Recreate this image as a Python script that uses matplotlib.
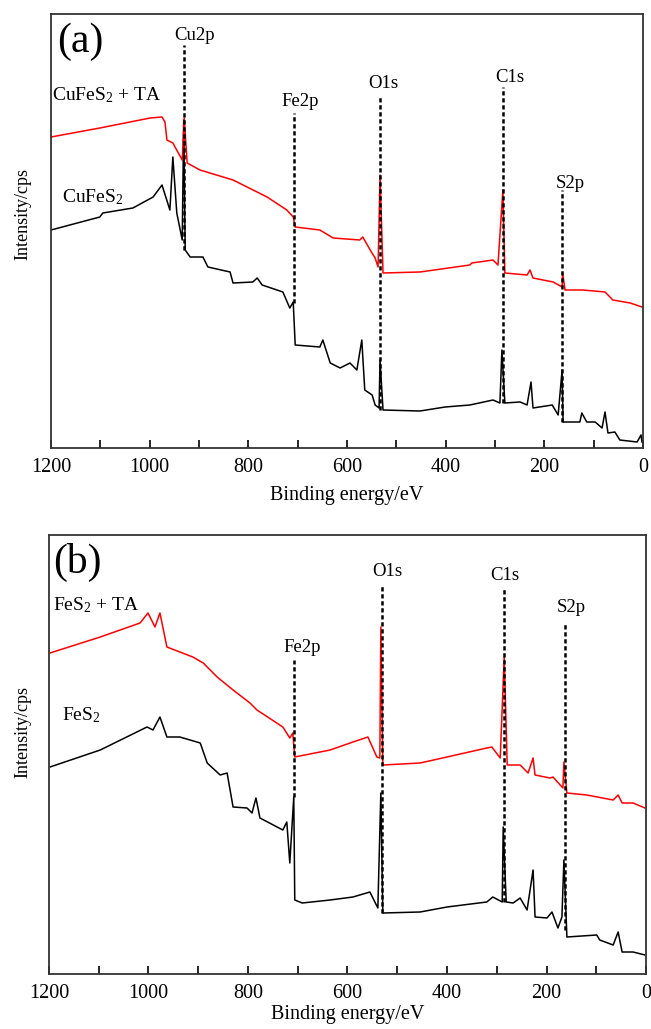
import matplotlib
matplotlib.use("Agg")
import matplotlib.pyplot as plt
from matplotlib.ticker import MultipleLocator

plt.rcParams['font.family'] = ['Liberation Serif', 'DejaVu Serif']
plt.rcParams['mathtext.fontset'] = 'custom'
plt.rcParams['mathtext.rm'] = 'Liberation Serif'
plt.rcParams['mathtext.it'] = 'Liberation Serif:italic'

# ---- panel (a): CuFeS2 ----
a_red_ev = [1200, 1101, 999, 975, 969, 965, 953, 934, 930, 924, 898, 831, 762, 722, 709,
            705, 655, 628, 574, 568, 553, 543, 537, 533, 527, 452, 351, 347, 304, 294,
            284, 280, 235, 229, 223, 182, 164, 163, 158, 122, 77, 61, 26, 2]
a_red_int = [311, 320, 330, 331, 326, 308, 305, 288, 330, 285, 278, 268, 251, 238, 231,
             221, 218, 210, 208, 211, 198, 190, 181, 273, 175, 176, 183, 185, 188, 183,
             258, 175, 173, 178, 170, 166, 161, 175, 158, 158, 156, 148, 145, 141]

a_blk_ev = [1200, 1101, 1095, 1034, 993, 975, 959, 953, 945, 934, 931, 928, 918, 892, 882,
            837, 831, 791, 782, 772, 730, 716, 709, 705, 655, 649, 634, 614, 594, 580,
            570, 564, 549, 543, 535, 533, 527, 452, 401, 351, 304, 290, 286, 280, 249,
            235, 227, 223, 184, 172, 164, 162, 128, 124, 114, 97, 83, 77, 71, 57,
            47, 12, 4, 2]
a_blk_int = [218, 231, 235, 240, 251, 263, 238, 291, 235, 208, 328, 198, 191, 191, 181,
             176, 165, 166, 170, 163, 156, 140, 146, 103, 101, 108, 85, 80, 85, 78,
             108, 58, 53, 43, 40, 88, 38, 37, 41, 43, 48, 45, 98, 45, 46,
             43, 66, 40, 43, 33, 78, 26, 26, 35, 26, 26, 20, 36, 15, 16,
             8, 6, 13, 6]

a_peak_names = ['Cu2p', 'Fe2p', 'O1s', 'C1s', 'S2p']
a_peak_ev = [930, 707, 533, 284, 164]
a_line_top = [403, 335, 352, 361, 258]
a_line_bot = [198, 145, 38, 45, 26]
a_label_ev = [908, 695, 527, 270, 148]
a_label_int = [413, 346, 365, 370, 265]

# ---- panel (b): FeS2 ----
b_red_ev = [1198, 1097, 1017, 1001, 987, 977, 963, 911, 890, 862, 830, 796, 782, 730, 716,
            710, 706, 635, 589, 559, 541, 535, 533, 529, 454, 400, 320, 310, 293, 285,
            279, 253, 237, 227, 223, 193, 187, 167, 165, 159, 119, 66, 56, 48, 26, 2]
b_red_int = [321, 337, 351, 361, 347, 361, 327, 317, 311, 297, 284, 271, 264, 247, 236,
             241, 217, 224, 232, 237, 217, 216, 347, 209, 211, 217, 226, 227, 216, 317,
             209, 209, 201, 216, 199, 196, 197, 186, 212, 181, 179, 174, 179, 171, 171, 166]

b_blk_ev = [1198, 1097, 1003, 991, 977, 963, 937, 896, 882, 856, 842, 830, 802, 792, 784,
            776, 730, 722, 716, 708, 706, 691, 635, 589, 555, 539, 533, 529, 454, 400,
            320, 308, 289, 287, 281, 267, 253, 239, 227, 223, 199, 189, 177, 169, 165,
            159, 99, 93, 66, 56, 48, 26, 2]
b_blk_int = [207, 224, 247, 244, 257, 237, 237, 231, 211, 199, 201, 167, 166, 161, 176,
             156, 144, 152, 111, 177, 74, 71, 74, 77, 82, 66, 181, 61, 62, 67,
             72, 77, 72, 147, 72, 71, 76, 64, 104, 57, 56, 62, 46, 57, 114,
             37, 39, 34, 29, 42, 22, 22, 19]

b_peak_names = ['Fe2p', 'O1s', 'C1s', 'S2p']
b_peak_ev = [707, 530, 285, 163]
b_line_top = [314, 389, 386, 352]
b_line_bot = [177, 61, 72, 44]
b_label_ev = [691, 519, 283, 151]
b_label_int = [327, 402, 399, 366]


def draw_panel(ax, red_ev, red_int, blk_ev, blk_int, names, peak_ev, top, bot,
               lab_ev, lab_int, ymax, tag, red_name, blk_name, tag_y, red_y, blk_y, lab_x,
               xpad):
    ax.plot(blk_ev, blk_int, color='black', lw=1.1)
    ax.plot(red_ev, red_int, color='red', lw=1.1)
    for name, ev, t, b, lx, ly in zip(names, peak_ev, top, bot, lab_ev, lab_int):
        ax.plot([ev, ev], [b, t], color='black', lw=1.8, linestyle=(0, (1.7, 1.1)))
        ax.text(lx, ly, name, ha='center', va='center', fontsize=13.5)
    ax.text(lab_x[0], tag_y, tag, ha='left', va='center', fontsize=30)
    ax.text(lab_x[1], red_y, red_name, ha='left', va='center', fontsize=14)
    ax.text(lab_x[2], blk_y, blk_name, ha='left', va='center', fontsize=14)

    ax.set_xlim(1200, 0)
    ax.set_ylim(0, ymax)
    ax.xaxis.set_major_locator(MultipleLocator(200))
    ax.xaxis.set_minor_locator(MultipleLocator(100))
    ax.tick_params(axis='x', which='both', direction='in', length=6, width=1.2,
                   labelsize=14.5, pad=7, top=False)
    ax.set_yticks([])
    for s in ax.spines.values():
        s.set_color('#333333')
        s.set_linewidth(1.3)
    ax.set_xlabel('Binding energy/eV', fontsize=14.5, labelpad=xpad)
    ax.set_ylabel('Intensity/cps', fontsize=13)


fig = plt.figure(figsize=(6.51, 10.29), dpi=100)
ax_a = fig.add_axes([51 / 651, 1 - 448 / 1029, 592 / 651, 434 / 1029])
ax_b = fig.add_axes([49 / 651, 1 - 974 / 1029, 597 / 651, 439 / 1029])

draw_panel(ax_a, a_red_ev, a_red_int, a_blk_ev, a_blk_int, a_peak_names, a_peak_ev,
           a_line_top, a_line_bot, a_label_ev, a_label_int, 434, '(a)',
           'CuFeS$_2$ + TA', 'CuFeS$_2$', 406, 353, 251, [1188, 1198, 1178], 7)
ax_a.yaxis.set_label_coords(-0.033, 0.539)

draw_panel(ax_b, b_red_ev, b_red_int, b_blk_ev, b_blk_int, b_peak_names, b_peak_ev,
           b_line_top, b_line_bot, b_label_ev, b_label_int, 439, '(b)',
           'FeS$_2$ + TA', 'FeS$_2$', 412, 369, 259, [1192, 1192, 1174], 2)
ax_b.yaxis.set_label_coords(-0.029, 0.551)

fig.savefig('out.png', dpi=100)
